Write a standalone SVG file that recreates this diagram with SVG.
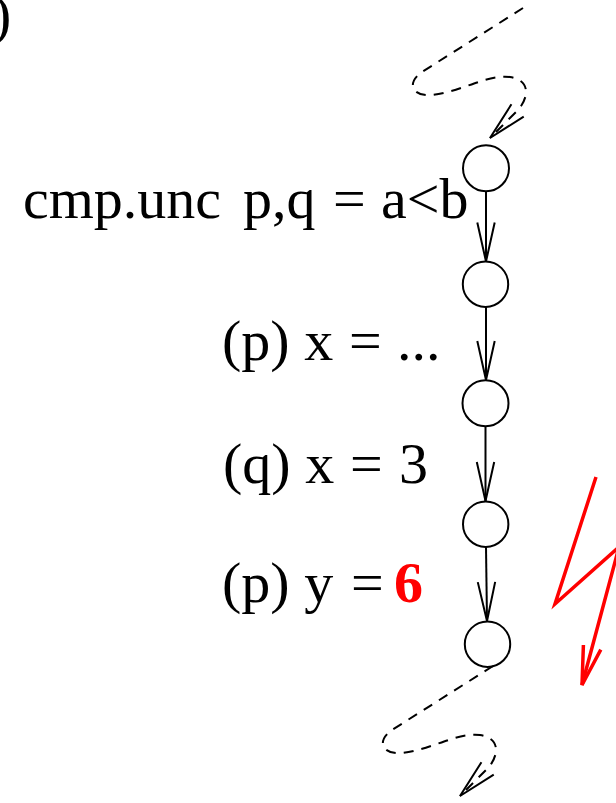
<svg xmlns="http://www.w3.org/2000/svg" width="616" height="803" viewBox="0 0 616 803">
  <style>
    .node { fill: none; stroke: #000; stroke-width: 2; }
    .lbl { font-family: "Liberation Serif", "Times New Roman", serif; font-size: 58px; fill: #000; }
    .edge { fill: none; stroke: #000; stroke-width: 2; }
    .dash { fill: none; stroke: #000; stroke-width: 2; stroke-dasharray: 10 8; }
    .bolt { fill: none; stroke: #ff0000; stroke-width: 3.5; stroke-linejoin: miter; }
  </style>
  <defs>
    <marker id="vhead" markerUnits="userSpaceOnUse" markerWidth="50" markerHeight="30" viewBox="-45 -15 50 30" refX="0" refY="0" orient="auto" overflow="visible">
      <path d="M-39,-8.7 L0,0 L-39,8.7" fill="none" stroke="#000" stroke-width="2" stroke-dasharray="none"/>
    </marker>
    <marker id="vheadRed" markerUnits="userSpaceOnUse" markerWidth="50" markerHeight="30" viewBox="-45 -15 50 30" refX="0" refY="0" orient="auto" overflow="visible">
      <path d="M-39,-9 L0,0 L-39,9" fill="none" stroke="#ff0000" stroke-width="3.5"/>
    </marker>
    <path id="squiggle" d="M523,8 L422,72 C406,83 412,97 432,95 C460,92 488,74 510,77 C533,81 527,100 518,110 L490,138"/>
  </defs>

  <text class="lbl" x="-8" y="34">)</text>

  <g id="connectors">
    <use href="#squiggle" class="dash" marker-end="url(#vhead)"/>
    <path class="dash" d="M493,666 L392,730 C376,741 382,755 402,753 C430,750 458,732 480,735 C503,739 497,758 488,768 L460,796" marker-end="url(#vhead)"/>
    <line class="edge" x1="486" y1="191" x2="486" y2="261.5" marker-end="url(#vhead)"/>
    <line class="edge" x1="486" y1="307" x2="486" y2="380" marker-end="url(#vhead)"/>
    <line class="edge" x1="485.5" y1="426" x2="485.5" y2="501" marker-end="url(#vhead)"/>
    <line class="edge" x1="486" y1="547" x2="487" y2="621" marker-end="url(#vhead)"/>
  </g>

  <g id="n1">
    <circle class="node" cx="486" cy="168.3" r="23"/>
    <text class="lbl" x="23" y="218">cmp.unc <tspan x="243">p,q</tspan> <tspan x="333">=</tspan> <tspan x="381">a&lt;b</tspan></text>
  </g>
  <g id="n2">
    <circle class="node" cx="485.5" cy="284.2" r="22.7"/>
    <text class="lbl" x="222" y="360">(p) x <tspan x="349">=</tspan> <tspan x="397">...</tspan></text>
  </g>
  <g id="n3">
    <circle class="node" cx="485.5" cy="403.3" r="23"/>
    <text class="lbl" x="223" y="483">(q) x <tspan x="350">=</tspan> <tspan x="399">3</tspan></text>
  </g>
  <g id="n4">
    <circle class="node" cx="485.7" cy="524.2" r="22.7"/>
    <text class="lbl" x="222" y="602">(p) y <tspan x="351">=</tspan><tspan x="394" font-weight="bold" fill="#ff0000">6</tspan></text>
  </g>
  <g id="n5">
    <circle class="node" cx="487.5" cy="644.2" r="22.7"/>
  </g>

  <g id="conflict">
    <polyline class="bolt" points="596,477 555,604 619,547 582,685" marker-end="url(#vheadRed)"/>
  </g>
</svg>
